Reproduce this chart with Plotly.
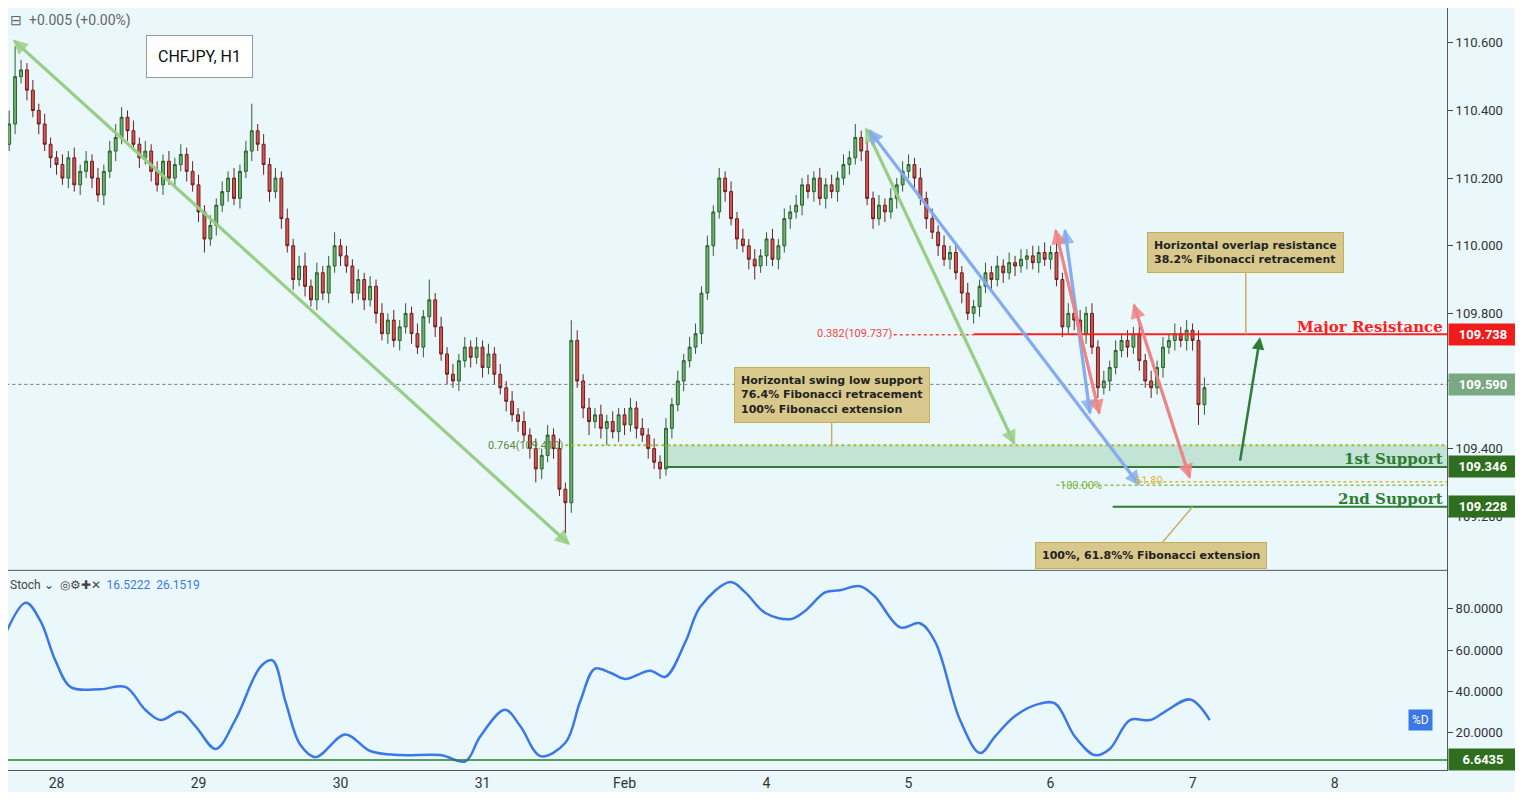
import plotly.graph_objects as go

# hourly closes, hour index -9 .. 194 (0 = start of day "28")
closes = [
110.30,110.36,110.50,110.52,110.46,110.40,110.36,110.30,110.26,
110.24,110.20,110.26,110.18,110.22,110.25,110.20,110.15,110.22,110.28,110.32,110.38,
110.34,110.30,110.26,110.28,110.22,110.18,110.25,110.20,110.24,110.27,110.22,110.18,
110.10,110.02,110.06,110.12,110.16,110.20,110.14,110.22,110.28,110.34,110.30,110.24,
110.16,110.20,110.08,110.00,109.90,109.94,109.88,109.84,109.92,109.86,109.94,110.00,
109.97,109.94,109.86,109.90,109.84,109.88,109.80,109.74,109.78,109.72,109.76,109.80,
109.74,109.70,109.79,109.84,109.76,109.68,109.62,109.60,109.66,109.70,109.67,109.70,
109.64,109.68,109.62,109.58,109.54,109.50,109.48,109.44,109.40,109.34,109.38,109.44,
109.40,109.28,109.24,109.72,109.60,109.52,109.48,109.50,109.46,109.48,109.45,109.50,
109.47,109.52,109.46,109.44,109.40,109.36,109.34,109.46,109.53,109.60,109.66,109.70,
109.74,109.86,110.00,110.10,110.20,110.16,110.08,110.02,110.00,109.96,109.94,109.97,
110.02,109.96,110.00,110.08,110.10,110.12,110.18,110.16,110.20,110.14,110.18,110.16,
110.20,110.24,110.26,110.32,110.28,110.14,110.08,110.12,110.10,110.14,110.18,110.22,
110.24,110.20,110.14,110.08,110.04,110.00,109.96,109.98,109.92,109.86,109.80,109.82,
109.88,109.92,109.90,109.94,109.92,109.95,109.94,109.96,109.97,109.95,109.98,109.96,
109.98,109.90,109.76,109.80,109.78,109.74,109.80,109.70,109.58,109.60,109.64,109.69,
109.72,109.70,109.74,109.66,109.60,109.58,109.64,109.70,109.72,109.74,109.72,109.75,
109.72,109.53,109.58]
first_open = 110.22
# wick lengths in 0.01 units
upper_wick = [
3,4,9,3,2,3,2,3,2, 2,3,2,3,2,3,2,3,2,3,4,3, 2,3,2,3,2,3,2,3,2,3,2,3,
3,2,3,2,3,2,3,2,3,8,2,3, 2,3,2,3,2,3,4,2,3,2,3,4, 2,3,2,3,2,3,2,3,2,3,2,3,
2,3,2,6,2,3,2,3,2,3,2,3, 2,3,2,3,2,3,2,3,2,3,2,3, 2,3,2,6,3,2,3,2,3,2,3,2,
2,3,2,3,2,3,2,3,2,3,2,3, 3,2,3,2,3,2,3,2,3,2,3,2, 2,3,2,3,2,3,2,3,2,3,2,3,
2,3,2,4,2,3,2,3,2,3,2,3, 3,2,3,2,3,2,3,2,3,2,3,2, 2,3,2,3,2,3,2,3,2,3,2,3,
2,3,2,3,2,3,2,3,2,3,2,3, 2,3,2,3,2,3,2,3,2,3,2,3, 2,3,3]
lower_wick = [
3,2,3,2,3,2,3,2,3, 3,2,3,2,3,2,3,2,3,2,3,2, 3,2,3,2,3,2,3,2,3,2,3,2,
3,4,2,3,2,3,2,3,2,3,2,3, 3,2,3,2,3,2,3,2,3,2,3,2, 3,2,3,2,3,2,3,2,3,2,3,2,
3,2,3,2,3,2,3,2,3,2,3,2, 3,2,3,2,3,2,3,2,3,4,3,2, 3,2,9,3,2,3,4,2,3,5,2,3,
3,2,3,2,3,2,3,2,3,2,3,2, 2,3,2,3,2,3,2,3,2,3,4,2, 3,2,3,2,3,2,3,2,3,2,3,2,
3,2,3,2,3,2,3,2,3,2,3,2, 2,3,2,3,2,3,2,3,2,3,2,3, 3,2,3,2,3,2,3,2,3,2,3,2,
3,2,3,2,3,2,3,2,3,2,3,2, 2,3,2,3,2,3,2,3,2,3,2,3, 3,6,3]
hours = list(range(-9, -9 + len(closes)))
opens = [first_open] + closes[:-1]
highs = [max(o, c) + u / 100 for o, c, u in zip(opens, closes, upper_wick)]
lows = [min(o, c) - l / 100 for o, c, l in zip(opens, closes, lower_wick)]

stoch_h = [-9.5,-5.2,-2.7,-0.2,2.4,7.4,11.7,15,17.6,20.9,23.5,26.9,30.2,34.5,36.5,38.7,41.2,43.8,48.8,53,58.1,64.9,69.1,71.6,75.8,78.4,81.8,86,88.5,91,93.6,96.1,100.3,102.9,106.3,108.8,113.9,116.4,119.8,124,126.5,129.9,132.4,135.8,138.3,142.6,145.9,148.5,152.7,156.1,158.6,162,166.2,168.8,172.1,175.5,178,181.4,184.8,187.3,191.6,194.9]
stoch_d = [62,83,74,55,42,41,42,31,26,30,23,12,26,52,55,35,14,8,19,11,9,9,6,18,31,23,8.5,15,35,51,49,46,50,47,64,81,93,88,78,75,79,88,89,91,86,71,73,64,26,10,18,28,34,34,18,9,12,26,26,30,36,26]

tick_hours = [0,24,48,72,96,120,144,168,192,216]
tick_text = ["28","29","30","31","Feb","4","5","6","7","8"]
price_ticks = [109.2,109.4,109.6,109.8,110.0,110.2,110.4,110.6]
stoch_ticks = [20,40,60,80]

BG = "#eaf8fc"
fig = go.Figure()
fig.add_trace(go.Candlestick(x=hours, open=opens, high=highs, low=lows, close=closes,
    increasing=dict(line=dict(color="#2f5e2f", width=1), fillcolor="#6ab56a"),
    decreasing=dict(line=dict(color="#6b1f1f", width=1), fillcolor="#d9534f"),
    whiskerwidth=0, xaxis="x", yaxis="y", showlegend=False))
fig.add_trace(go.Scatter(x=stoch_h, y=stoch_d, mode="lines", line=dict(color="#3b78e7", width=2.5, shape="spline"),
    xaxis="x", yaxis="y2", showlegend=False))

XR = [-8.2, 235]
fig.update_layout(
    width=1507, height=784, margin=dict(l=0, r=68, t=0, b=22),
    paper_bgcolor=BG, plot_bgcolor=BG, font=dict(family="Roboto", size=13, color="#333"),
    xaxis=dict(range=XR, tickvals=tick_hours, ticktext=tick_text, showgrid=False, zeroline=False,
               rangeslider=dict(visible=False),
               anchor="y2", showline=True, linecolor="#555", ticks="outside", ticklen=0, tickfont=dict(size=14)),
    yaxis=dict(domain=[0.262, 1], range=[109.04, 110.703], side="right", tickvals=price_ticks, tickformat=".3f",
               showgrid=False, zeroline=False, showline=True, linecolor="#555", ticks="outside", ticklen=5, tickfont=dict(size=13)),
    yaxis2=dict(domain=[0, 0.262], range=[1.76, 98.7], side="right", tickvals=stoch_ticks, tickformat=".4f",
                showgrid=False, zeroline=False, showline=True, linecolor="#555", ticks="outside", ticklen=5),
)
shapes = []
def line(x0, y0, x1, y1, color, width=1, dash="solid", yref="y"):
    shapes.append(dict(type="line", x0=x0, y0=y0, x1=x1, y1=y1, xref="x", yref=yref,
                       line=dict(color=color, width=width, dash=dash)))
RX = 235
shapes.append(dict(type="line", xref="paper", yref="paper", x0=0, x1=1, y0=0.262, y1=0.262, line=dict(color="#555", width=1)))
shapes.append(dict(type="rect", x0=103, x1=RX, y0=109.346, y1=109.41, xref="x", yref="y",
                   fillcolor="rgba(120,190,140,0.35)", line=dict(width=0)))
line(86, 109.41, RX, 109.41, "#a8b830", 2, "dot")
line(103, 109.346, RX, 109.346, "#2e7d32", 2)
line(155, 109.738, RX, 109.738, "#ff2020", 2)
line(141.5, 109.737, 155, 109.737, "#ff4040", 1.5, "dot")
line(178.5, 109.228, RX, 109.228, "#2e7d32", 2)
line(169, 109.292, RX, 109.292, "#8bc34a", 1.5, "dot")
line(183, 109.302, RX, 109.302, "#d6b84a", 1.5, "dot")
line(-9.5, 109.59, RX, 109.59, "#777", 1, "dot")
line(-9.5, 6.64, RX, 6.64, "#2e7d32", 1.5, yref="y2")
fig.update_layout(shapes=shapes)

anns = []
def arrow(x0, y0, x1, y1, color, width=3, both=False):
    anns.append(dict(x=x1, y=y1, ax=x0, ay=y0, xref="x", yref="y", axref="x", ayref="y", text="",
                     showarrow=True, arrowhead=2, arrowsize=1, arrowwidth=width, arrowcolor=color))
    if both:
        anns.append(dict(x=x0, y=y0, ax=x1, ay=y1, xref="x", yref="y", axref="x", ayref="y", text="",
                         showarrow=True, arrowhead=2, arrowsize=1, arrowwidth=width, arrowcolor=color))
GA = "rgba(150,205,130,0.8)"
BA = "rgba(130,170,240,0.8)"
RA = "rgba(240,130,130,0.85)"
arrow(-7.4, 110.61, 86.8, 109.115, GA, both=True)
arrow(136.7, 110.35, 162, 109.41, GA, both=True)
arrow(137.2, 110.345, 183.1, 109.29, BA, both=True)
arrow(170.4, 110.05, 174.7, 109.50, BA, both=True)
arrow(168.8, 110.05, 176.3, 109.50, RA, both=True)
arrow(182, 109.83, 191.6, 109.31, RA, both=True)
arrow(200, 109.36, 203.4, 109.73, "#2e7d32", 2.5)

def box(x, y, text, ax, ay, size=11):
    anns.append(dict(x=x, y=y, xref="x", yref="y", text=text, showarrow=True, ax=ax, ay=ay, axref="x", ayref="y",
                     arrowhead=0, arrowwidth=1.5, arrowcolor="#c8b060", bgcolor="#d9c88c", bordercolor="#c4ad5e",
                     borderwidth=1, borderpad=6, font=dict(size=size, color="#222", family="DejaVu Sans"), align="left"))
box(131, 109.41, "<b>Horizontal swing low support<br>76.4% Fibonacci retracement<br>100% Fibonacci extension</b>", 131, 109.56)
box(201, 109.738, "<b>Horizontal overlap resistance<br>38.2% Fibonacci retracement</b>", 201, 109.98)
box(192, 109.228, "<b>100%, 61.8%% Fibonacci extension</b>", 185, 109.083)

def txt(x, y, t, color, size=11, xanchor="left", bold=False, yref="y"):
    anns.append(dict(x=x, y=y, xref="x", yref=yref, text=("<b>%s</b>" % t) if bold else t, showarrow=False,
                     xanchor=xanchor, font=dict(size=size, color=color)))
txt(141.5, 109.74, "0.382(109.737)", "#ff4040", 11, "right")
txt(86, 109.41, "0.764(109.410)", "#5a8a3a", 11, "right")
txt(177, 109.29, "100.00%", "#7cb342", 11, "right")
txt(182, 109.305, "61.80", "#d6b84a", 11, "left")
anns.append(dict(x=1, y=109.76, xref="paper", yref="y", text="<b>Major Resistance</b>", showarrow=False,
                 xanchor="right", xshift=-2, font=dict(size=15, color="#ff2020", family="DejaVu Serif")))
anns.append(dict(x=1, y=109.37, xref="paper", yref="y", text="<b>1st Support</b>", showarrow=False,
                 xanchor="right", xshift=-2, font=dict(size=15, color="#2e7d32", family="DejaVu Serif")))
anns.append(dict(x=1, y=109.252, xref="paper", yref="y", text="<b>2nd Support</b>", showarrow=False,
                 xanchor="right", xshift=-2, font=dict(size=15, color="#2e7d32", family="DejaVu Serif")))

def rlabel(y, t, bg, yref="y"):
    anns.append(dict(x=1, y=y, xref="paper", yref=yref, text="<b>%s</b>" % t, showarrow=False, xanchor="left",
                     xshift=1, bgcolor=bg, font=dict(color="white", size=13), borderpad=3, width=62))
rlabel(109.738, "109.738", "#f01c1c")
rlabel(109.59, "109.590", "#7aa882")
rlabel(109.346, "109.346", "#2e6e1e")
rlabel(109.228, "109.228", "#2e6e1e")
rlabel(6.64, "6.6435", "#2e6e1e", "y2")
anns.append(dict(x=0.99, y=26, xref="paper", yref="y2", text="%D", showarrow=False, bgcolor="#3b78e7",
                 font=dict(color="white", size=12), borderpad=3))
anns.append(dict(x=0.0, y=0.998, xref="paper", yref="paper", xanchor="left", yanchor="top", text="⊟  +0.005 (+0.00%)",
                 showarrow=False, font=dict(size=14, color="#666")))
anns.append(dict(x=0.096, y=0.965, xref="paper", yref="paper", xanchor="left", yanchor="top", text="CHFJPY, H1",
                 showarrow=False, bgcolor="white", bordercolor="#999", borderwidth=1, borderpad=11,
                 font=dict(size=16, color="#111")))
anns.append(dict(x=0.0, y=0.255, xref="paper", yref="paper", xanchor="left", yanchor="top",
                 text="Stoch ⌄  ◎⚙✚✕  <span style='color:#3b78e7'>16.5222  26.1519</span>",
                 showarrow=False, font=dict(size=12, color="#444")))
fig.update_layout(annotations=anns)
fig.write_html("out.html")
